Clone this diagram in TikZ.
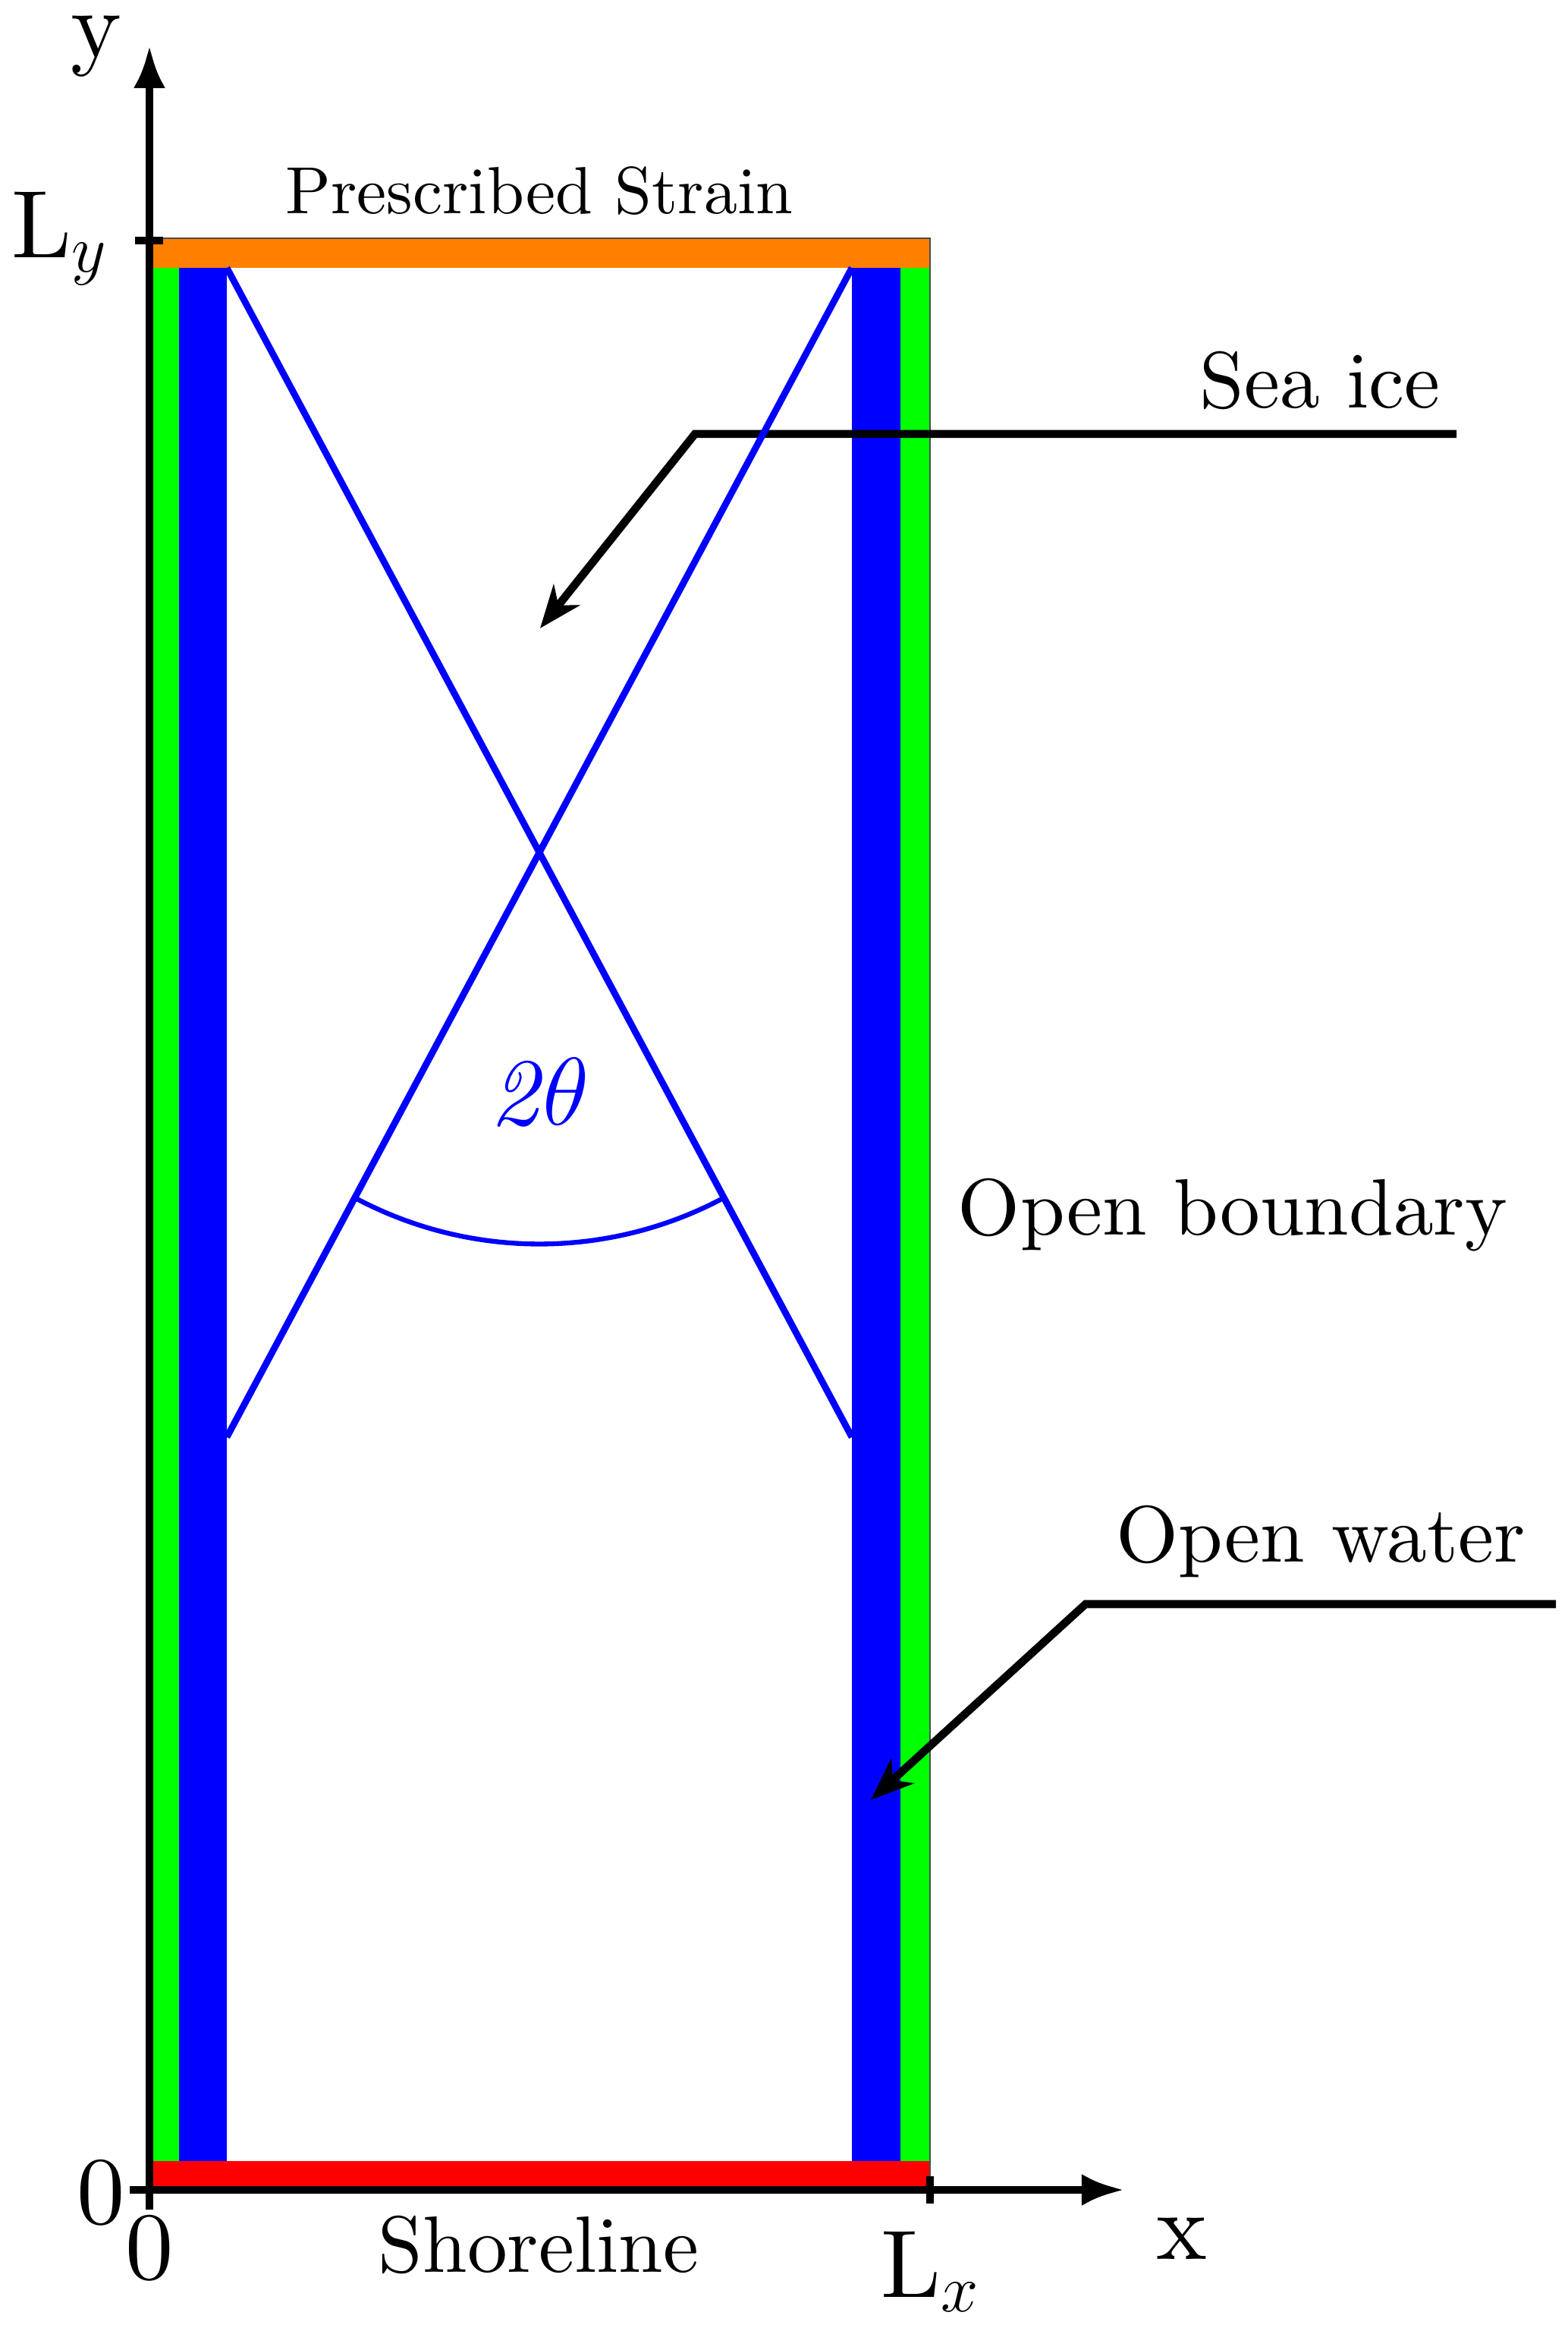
\RequirePackage{fix-cm}
\documentclass[tikz,border=0pt]{standalone}
\usepackage{fontspec}
\setmainfont{lmroman10-regular.otf}[ItalicFont=lmroman10-italic.otf]
\usetikzlibrary{arrows.meta}

\begin{document}
\begin{tikzpicture}[
    axislabel/.style={font=\fontsize{36}{40}\selectfont, inner sep=0pt},
    tag/.style={font=\fontsize{30}{34}\selectfont, inner sep=0pt},
    callout/.style={-{Stealth[length=16pt,width=12.5pt,inset=5pt]}, line width=3pt},
  ]
  \useasboundingbox (-1.97,-1.82) rectangle (18.70,28.86);

  % domain strips
  \fill[orange] (0,25.33) rectangle (10.29,25.72);
  \fill[red] (0,0) rectangle (10.29,0.38);
  \fill[green] (0,0.38) rectangle (0.39,25.33);
  \fill[blue] (0.39,0.38) rectangle (1.02,25.33);
  \fill[blue] (9.26,0.38) rectangle (9.90,25.33);
  \fill[green] (9.90,0.38) rectangle (10.29,25.33);
  \draw[black!70, line width=0.5pt] (0,0) rectangle (10.29,25.72);

  % callouts
  \coordinate (ice-end) at (17.23,23.14);
  \coordinate (ice-bend) at (7.19,23.14);
  \coordinate (ice-tip) at (5.15,20.58);
  \coordinate (water-end) at (18.54,7.72);
  \coordinate (water-bend) at (12.34,7.72);
  \coordinate (water-tip) at (9.51,5.14);
  \draw[callout] (ice-end) -- (ice-bend) -- (ice-tip);
  \draw[callout] (water-end) -- (water-bend) -- (water-tip);

  % crossing lines
  \coordinate (TL) at (1.02,25.33);
  \coordinate (TR) at (9.26,25.33);
  \coordinate (BL) at (1.02,9.92);
  \coordinate (BR) at (9.26,9.92);
  \coordinate (C) at (5.14,17.625);
  \begin{scope}[blue]
      \draw[line width=2.5pt] (TL) -- (BR);
      \draw[line width=2.5pt] (TR) -- (BL);
      \draw[line width=1.8pt] (C) ++(241.9:5.16) arc[start angle=241.9, end angle=298.1, radius=5.16];
  \end{scope}
  \node[axislabel, blue] (angle) at (5.14,14.46) {\textit{2}$\theta$};

  % axes
  \begin{scope}[line width=3pt]
      \draw[-{Latex[length=16pt,width=12pt]}] (0,-0.26) -- (0,28.26);
      \draw[-{Latex[length=16pt,width=12pt]}] (-0.26,0) -- (12.85,0);
      \draw (-0.19,25.69) -- (0.18,25.69);
      \draw (10.29,-0.18) -- (10.29,0.18);
  \end{scope}
  \node[axislabel, anchor=base] (ylab) at (-0.70,28.10) {y};
  \node[axislabel, anchor=base] (xlab) at (13.61,-0.92) {x};
  \node[axislabel, anchor=base west] (lylab) at (-1.82,25.46) {L$_y$};
  \node[axislabel, anchor=base west] (lxlab) at (9.64,-1.42) {L$_x$};
  \node[axislabel, anchor=base] (zeroy) at (-0.64,-0.45) {0};
  \node[axislabel, anchor=base] (zerox) at (0,-1.18) {0};

  % labels
  \node[font=\fontsize{25}{30}\selectfont, inner sep=0pt, anchor=base] (strain) at (5.14,26.04) {Prescribed Strain};
  \node[tag, anchor=base] (shore) at (5.13,-1.09) {Shoreline};
  \node[tag, anchor=base] (icelab) at (15.43,23.48) {Sea ice};
  \node[tag, anchor=base] (boundary) at (14.28,12.58) {Open boundary};
  \node[tag, anchor=base] (waterlab) at (15.44,8.27) {Open water};
\end{tikzpicture}
\end{document}
